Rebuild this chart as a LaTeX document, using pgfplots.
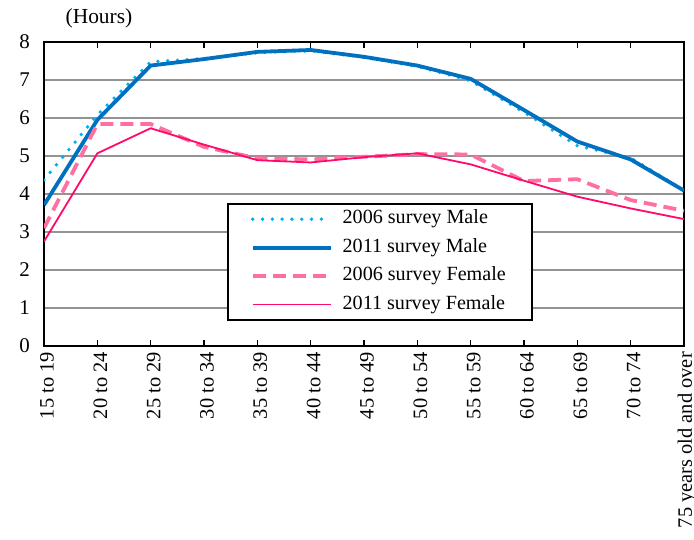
\documentclass[border=0pt]{standalone}
\usepackage{fontspec}
\setmainfont{Liberation Serif}
\usepackage{pgfplots}
\pgfplotsset{compat=1.18}
\definecolor{male06}{HTML}{00B0F0}
\definecolor{male11}{HTML}{0070C0}
\definecolor{fem06}{HTML}{FF6F9F}
\definecolor{fem11}{HTML}{FF0A6A}
\begin{document}
\begin{tikzpicture}
\begin{axis}[
  at={(0,0)}, anchor=south west,
  scale only axis, width=640bp, height=304bp,
  xmin=0, xmax=12, ymin=0, ymax=8,
  xtick={0,...,12},
  xticklabels={15 to 19,20 to 24,25 to 29,30 to 34,35 to 39,40 to 44,45 to 49,50 to 54,55 to 59,60 to 64,65 to 69,70 to 74,75 years old and over},
  ytick={0,...,8},
  /pgf/number format/assume math mode=true,
  tick align=inside,
  major tick length=6bp,
  ytick style={draw=none},
  xtick style={black, line width=1.2bp},
  axis line style={black, line width=2.2bp},
  ymajorgrids,
  major grid style={draw=gray!85, line width=1.8bp},
  xticklabel style={yshift=-6bp, xshift=3bp, rotate=90, anchor=east, inner sep=0pt, font=\fontsize{20.5}{22}\selectfont},
  yticklabel style={anchor=east, inner sep=0pt, xshift=-14bp, font=\fontsize{21}{23}\selectfont},
  legend style={at={(rel axis cs:0.286,0.470)}, anchor=north west, draw=black, line width=1.6bp,
    font=\fontsize{20.2}{22}\selectfont, inner xsep=23bp, inner ysep=3bp, row sep=4bp,
    nodes={inner sep=3pt, text height=14bp, text depth=4.5bp},
    /tikz/every odd column/.append style={column sep=7bp}},
  legend cell align=left,
  legend image code/.code={\draw[#1] (0bp,0bp) -- (78bp,0bp);},
]
\addplot[male06, line width=3.8bp, line cap=round, dash pattern=on 0bp off 9.8bp] coordinates {
(0,4.37) (1,6.08) (2,7.48) (3,7.56) (4,7.72) (5,7.77) (6,7.60) (7,7.36) (8,6.98) (9,6.15) (10,5.27) (11,4.95) (12,4.10)};
\addlegendentry{2006 survey Male}
\addplot[male11, line width=3.8bp] coordinates {
(0,3.71) (1,5.95) (2,7.38) (3,7.55) (4,7.74) (5,7.79) (6,7.61) (7,7.38) (8,7.03) (9,6.21) (10,5.38) (11,4.91) (12,4.09)};
\addlegendentry{2011 survey Male}
\addplot[fem06, line width=3.8bp, dash pattern=on 13bp off 7bp] coordinates {
(0,3.10) (1,5.84) (2,5.84) (3,5.24) (4,4.94) (5,4.91) (6,4.98) (7,5.05) (8,5.04) (9,4.34) (10,4.39) (11,3.84) (12,3.56)};
\addlegendentry{2006 survey Female}
\addplot[fem11, line width=1.8bp] coordinates {
(0,2.75) (1,5.07) (2,5.73) (3,5.30) (4,4.89) (5,4.83) (6,4.97) (7,5.07) (8,4.78) (9,4.35) (10,3.93) (11,3.62) (12,3.34)};
\addlegendentry{2011 survey Female}
\end{axis}
\node[font=\fontsize{21.5}{23}\selectfont] at (55bp,328bp) {(Hours)};
\pgfresetboundingbox
\useasboundingbox (-44bp,-194bp) rectangle (650bp,346bp);
\end{tikzpicture}
\end{document}
